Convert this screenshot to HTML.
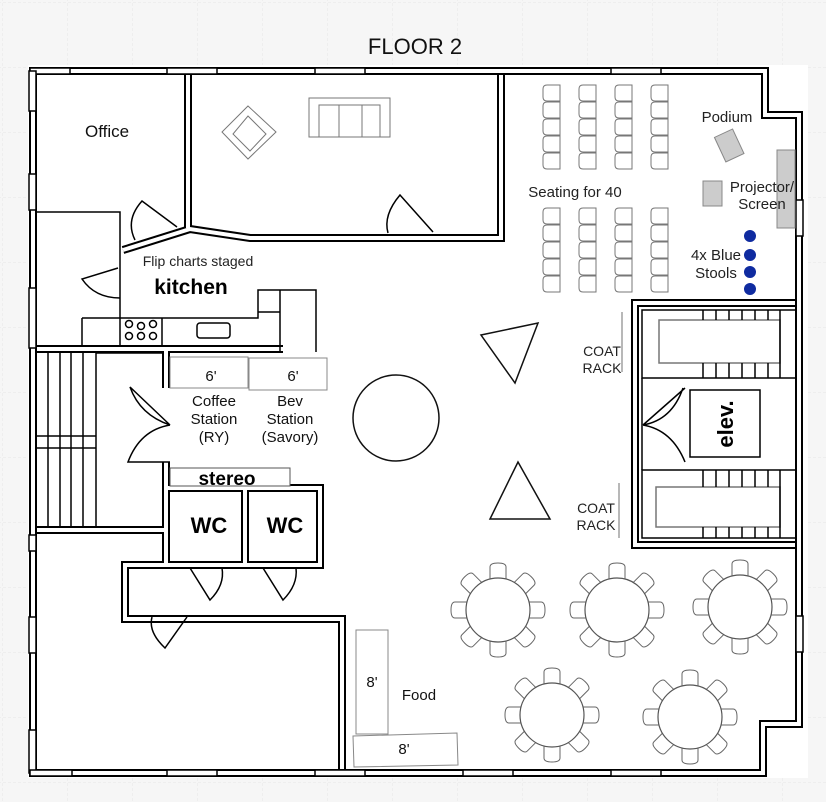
<!DOCTYPE html>
<html><head><meta charset="utf-8"><style>
html,body{margin:0;padding:0;background:#f6f6f6;}
svg{display:block}
text{font-family:"Liberation Sans",sans-serif;}
</style></head><body>
<svg width="826" height="802" viewBox="0 0 826 802" xmlns="http://www.w3.org/2000/svg">
<defs>
<pattern id="g" width="65" height="65" patternUnits="userSpaceOnUse" x="3" y="3">
<path d="M65,0 V65 M0,65 H65" stroke="#e6e6e6" stroke-width="1" fill="none" stroke-dasharray="3,2"/>
</pattern>
<g id="ch"><path d="M-8,-31 L-8,-43 Q-8,-47 0,-47 Q8,-47 8,-43 L8,-31" fill="#fff" stroke="#666" stroke-width="1"/></g>
<g id="tb">
<use href="#ch"/><use href="#ch" transform="rotate(45)"/><use href="#ch" transform="rotate(90)"/><use href="#ch" transform="rotate(135)"/>
<use href="#ch" transform="rotate(180)"/><use href="#ch" transform="rotate(225)"/><use href="#ch" transform="rotate(270)"/><use href="#ch" transform="rotate(315)"/>
<circle r="32" fill="#fff" stroke="#555" stroke-width="1.2"/>
</g>
<g id="st"><path d="M17,0 H4 Q0,0 0,4 V12 Q0,16 4,16 H17 Z" fill="#fff" stroke="#777" stroke-width="1"/></g>
<g id="col">
<use href="#st" y="0"/><use href="#st" y="17"/><use href="#st" y="34"/><use href="#st" y="51"/><use href="#st" y="68"/>
</g>
<path id="w1" d="M33,71 H765 V115 H799 V724 H763 V773 H33 Z"/>
<path id="w2" d="M188,75 V228"/>
<path id="w3" d="M123,250 L190,229 L250,238 H501 V75"/>
<path id="w4" d="M37,349 H283"/>
<path id="w5" d="M166,349 V388 M166,462 V565 H125 V619 H342 V769"/>
<path id="w6" d="M37,530 H166"/>
<path id="w7" d="M166,488 H320 V565 H166"/>
<path id="w8" d="M245,488 V565"/>
<path id="w9" d="M795,303 H635 V545 H795"/>
</defs>
<rect width="826" height="802" fill="#f6f6f6"/>
<rect width="826" height="802" fill="url(#g)"/>
<rect x="28" y="65" width="780" height="713" fill="#fff"/>
<text x="415" y="54" font-size="22" text-anchor="middle" fill="#111">FLOOR 2</text>

<g fill="none" stroke-linejoin="miter">
<g stroke="#000" stroke-width="8">
<use href="#w1"/><use href="#w2"/><use href="#w3"/><use href="#w4"/><use href="#w5"/><use href="#w6"/><use href="#w7"/><use href="#w8"/><use href="#w9"/>
</g>
<g stroke="#fff" stroke-width="4">
<use href="#w1"/><use href="#w2"/><use href="#w3"/><use href="#w4"/><use href="#w5"/><use href="#w6"/><use href="#w7"/><use href="#w8"/><use href="#w9"/>
</g>
</g>
<g fill="#fff" stroke="#000" stroke-width="1.5">
<rect x="30" y="68" width="40" height="6"/><rect x="167" y="68" width="50" height="6"/><rect x="315" y="68" width="50" height="6"/><rect x="611" y="68" width="50" height="6"/>
<rect x="29" y="71" width="7" height="40"/><rect x="29" y="174" width="7" height="36"/><rect x="29" y="288" width="7" height="60"/>
<rect x="29" y="535" width="7" height="16"/><rect x="29" y="617" width="7" height="36"/><rect x="29" y="730" width="7" height="43"/>
<rect x="30" y="770" width="42" height="6"/><rect x="167" y="770" width="50" height="6"/><rect x="315" y="770" width="50" height="6"/><rect x="463" y="770" width="50" height="6"/><rect x="611" y="770" width="50" height="6"/>
<rect x="796" y="200" width="7" height="36"/><rect x="796" y="616" width="7" height="36"/>
</g>

<g fill="none" stroke="#000" stroke-width="1.5">
<path d="M36,212 H120 V318"/>
<path d="M82,318 H258 V290 H316 V352 M82,318 V346 M120,318 V346 M162,318 V346 M258,312 H280 M280,290 V352"/>
<rect x="197" y="323" width="33" height="15" rx="3"/>
<circle cx="129" cy="324" r="3.5"/><circle cx="141" cy="326" r="3.5"/><circle cx="153" cy="324" r="3.5"/><circle cx="129" cy="336" r="3.5"/><circle cx="141" cy="336" r="3.5"/><circle cx="153" cy="336" r="3.5"/>
<path d="M177,227 L142,201 Q125,220 135,240"/>
<path d="M118,268 L82,279 Q95,298 120,298"/>
<path d="M433,232 L400,195 Q383,215 388,233"/>
<path d="M170,425 L130,387 Q140,415 170,425 M170,425 Q140,430 128,462 L170,462"/>
<path d="M190,568 L210,600 Q225,585 222,568"/>
<path d="M263,568 L283,600 Q298,585 296,568"/>
<path d="M187,617 L165,648 Q148,632 152,617"/>
<path d="M643,425 L685,388 M643,425 Q672,430 685,462 M643,425 Q672,420 683,388"/>
</g>
<g fill="none" stroke="#777" stroke-width="1">
<path d="M248,106 L276,132 L248,159 L222,132 Z"/><path d="M248,116 L266,134 L250,151 L233,134 Z"/>
<rect x="309" y="98" width="81" height="39"/><rect x="319" y="105" width="61" height="32"/><path d="M339,105 V137 M362,105 V137"/>
</g>
<g fill="none" stroke="#000" stroke-width="1.5">
<path d="M48,353 V528 M60,353 V528 M71,353 V528 M83,353 V528 M96,353 V528 M36,436 H96 M36,448 H96"/>
<path d="M96,353 H163 M96,527 H163"/>
</g>
<g fill="#fff" stroke="#888" stroke-width="1">
<rect x="170" y="357" width="78" height="31"/><rect x="249" y="358" width="78" height="32"/>
<rect x="170" y="468" width="120" height="18" stroke="#555"/>
<rect x="356" y="630" width="32" height="104"/>
<path d="M353,736 L457,733 L458,765 L354,767 Z"/>
</g>
<g fill="#111" font-size="15" text-anchor="middle">
<text x="211" y="381">6'</text><text x="293" y="381">6'</text>
<text x="214" y="406">Coffee</text><text x="214" y="424">Station</text><text x="214" y="442">(RY)</text>
<text x="290" y="406">Bev</text><text x="290" y="424">Station</text><text x="290" y="442">(Savory)</text>
<text x="372" y="687">8'</text><text x="404" y="754">8'</text>
<text x="419" y="700">Food</text>
</g>
<text x="227" y="485" font-size="19" font-weight="bold" text-anchor="middle">stereo</text>
<text x="209" y="533" font-size="22" font-weight="bold" text-anchor="middle">WC</text>
<text x="285" y="533" font-size="22" font-weight="bold" text-anchor="middle">WC</text>
<text x="85" y="137" font-size="17" fill="#111">Office</text>
<text x="198" y="266" font-size="14" fill="#222" text-anchor="middle">Flip charts staged</text>
<text x="191" y="294" font-size="21" font-weight="bold" text-anchor="middle">kitchen</text>

<g fill="#fff" stroke="#111" stroke-width="1.5">
<path d="M481,335 L538,323 L515,383 Z"/>
<path d="M518,462 L550,519 L490,519 Z"/>
<circle cx="396" cy="418" r="43"/>
</g>

<g>
<use href="#col" x="543" y="85"/><use href="#col" x="579" y="85"/><use href="#col" x="615" y="85"/><use href="#col" x="651" y="85"/>
<use href="#col" x="543" y="208"/><use href="#col" x="579" y="208"/><use href="#col" x="615" y="208"/><use href="#col" x="651" y="208"/>
</g>
<text x="575" y="197" font-size="15" text-anchor="middle" fill="#222">Seating for 40</text>
<text x="727" y="122" font-size="15" text-anchor="middle" fill="#222">Podium</text>
<rect x="719" y="132" width="20" height="27" fill="#ccc" stroke="#888" transform="rotate(-25 729 145)"/>
<rect x="703" y="181" width="19" height="25" fill="#ccc" stroke="#888"/>
<rect x="777" y="150" width="18" height="78" fill="#ccc" stroke="#888"/>
<text x="762" y="192" font-size="15" text-anchor="middle" fill="#222">Projector/</text>
<text x="762" y="209" font-size="15" text-anchor="middle" fill="#222">Screen</text>
<text x="716" y="260" font-size="15" text-anchor="middle" fill="#222">4x Blue</text>
<text x="716" y="278" font-size="15" text-anchor="middle" fill="#222">Stools</text>
<g fill="#0f2ba0"><circle cx="750" cy="236" r="6"/><circle cx="750" cy="255" r="6"/><circle cx="750" cy="272" r="6"/><circle cx="750" cy="289" r="6"/></g>

<g fill="none" stroke="#000" stroke-width="1.5">
<rect x="642" y="310" width="154" height="68"/>
<rect x="659" y="320" width="121" height="43" stroke="#777"/>
<path d="M703,310 V320 M716,310 V320 M729,310 V320 M742,310 V320 M755,310 V320 M768,310 V320 M780,310 V378 M703,363 V378 M716,363 V378 M729,363 V378 M742,363 V378 M755,363 V378 M768,363 V378"/>
<rect x="642" y="470" width="154" height="68"/>
<rect x="656" y="487" width="124" height="40" stroke="#777"/>
<path d="M703,470 V487 M716,470 V487 M729,470 V487 M742,470 V487 M755,470 V487 M768,470 V487 M780,470 V538 M703,527 V538 M716,527 V538 M729,527 V538 M742,527 V538 M755,527 V538 M768,527 V538"/>
<path d="M642,378 V470"/>
<rect x="690" y="390" width="70" height="67"/>
</g>
<text transform="translate(733,424) rotate(-90)" font-size="22" font-weight="bold" text-anchor="middle">elev.</text>
<g stroke="#888" stroke-width="1.2"><path d="M622,312 V372 M619,483 V538"/></g>
<g font-size="14" fill="#222" text-anchor="middle">
<text x="602" y="356">COAT</text><text x="602" y="373">RACK</text>
<text x="596" y="513">COAT</text><text x="596" y="530">RACK</text>
</g>

<use href="#tb" x="498" y="610"/>
<use href="#tb" x="617" y="610"/>
<use href="#tb" x="740" y="607"/>
<use href="#tb" x="552" y="715"/>
<use href="#tb" x="690" y="717"/>
</svg>
</body></html>
